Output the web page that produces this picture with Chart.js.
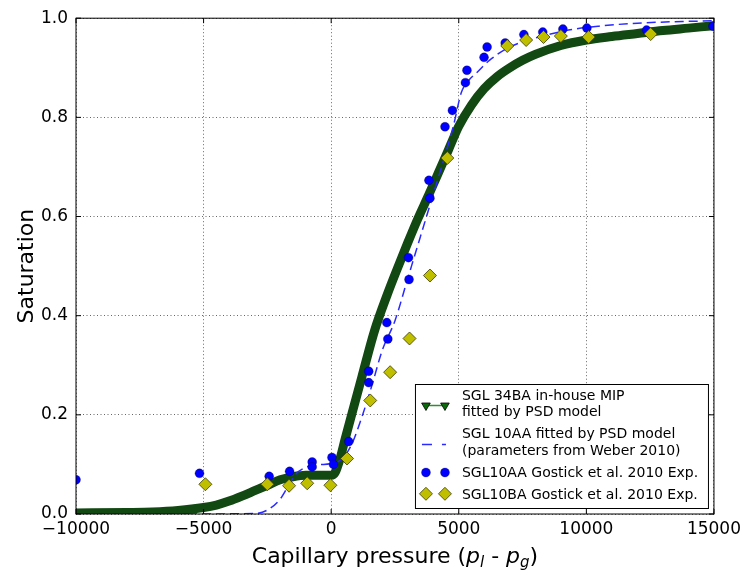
<!DOCTYPE html>
<html>
<head>
<meta charset="utf-8">
<script src="https://cdn.jsdelivr.net/npm/chart.js@4.4.1/dist/chart.umd.min.js"></script>
<style>
  html, body { margin: 0; padding: 0; background: #fff; }
  #wrap { width: 746px; height: 577px; }
</style>
</head>
<body>
<div id="wrap"><canvas id="chart" width="746" height="577"></canvas></div>
<script>
// SGL 34BA in-house MIP, fitted by PSD model
const fitX = [-10000, -8000, -7000, -6000, -5000, -4500, -4000, -3500, -3000, -2500, -2000, -1500, -1000, -500, 0,
  150, 350, 550, 800, 1200, 1700, 2200, 2600, 3000, 3400, 3800, 4200, 4600, 5000, 5500, 6000, 6500, 7000, 7500,
  8000, 9000, 10000, 11000, 12000, 13000, 14000, 15000];
const fitY = [0.002, 0.003, 0.004, 0.007, 0.013, 0.018, 0.026, 0.036, 0.047, 0.058, 0.069, 0.075, 0.078, 0.078, 0.078,
  0.083, 0.112, 0.152, 0.2, 0.276, 0.37, 0.443, 0.496, 0.547, 0.596, 0.641, 0.688, 0.735, 0.782, 0.825, 0.858, 0.882, 0.9, 0.915,
  0.927, 0.945, 0.956, 0.963, 0.969, 0.975, 0.98, 0.985];

// SGL 10AA fitted by PSD model (parameters from Weber 2010)
const weberX = [-10000, -6000, -3000, -2500, -2000, -1700, -1400, -1000, -500, 0, 400, 800, 1200, 1600, 2000, 2500,
  3000, 3500, 4000, 4500, 4800, 5100, 5400, 5700, 6200, 7000, 8000, 9300, 10500, 12000, 15000];
const weberY = [0, 0, 0.001, 0.008, 0.03, 0.055, 0.08, 0.094, 0.099, 0.102, 0.11, 0.14, 0.195, 0.26, 0.33, 0.39,
  0.475, 0.56, 0.645, 0.73, 0.785, 0.85, 0.875, 0.89, 0.915, 0.942, 0.96, 0.976, 0.984, 0.99, 0.995];

// SGL10AA Gostick et al. 2010 Exp.
const aaX = [-10000, -5160, -2430, -1630, -745, -745, 30, 90, 690, 1470, 1470, 2180, 2220, 3030, 3050, 3830, 3870,
  4460, 4750, 5260, 5320, 5990, 6110, 6820, 7550, 8290, 9080, 10020, 12360, 14960];
const aaY = [0.069, 0.082, 0.076, 0.086, 0.105, 0.095, 0.114, 0.1, 0.146, 0.288, 0.265, 0.386, 0.353, 0.517, 0.473, 0.673, 0.637,
  0.781, 0.814, 0.87, 0.895, 0.921, 0.942, 0.95, 0.967, 0.972, 0.978, 0.98, 0.976, 0.984];

// SGL10BA Gostick et al. 2010 Exp.
const baX = [-4930, -2500, -1650, -940, -30, 620, 1530, 2310, 3070, 3870, 4550, 6900, 7640, 8320, 9000, 10090, 12520];
const baY = [0.06, 0.06, 0.057, 0.062, 0.058, 0.112, 0.229, 0.286, 0.354, 0.481, 0.718, 0.944, 0.956, 0.962, 0.964, 0.962, 0.968];

const xTicks = [-10000, -5000, 0, 5000, 10000, 15000];
const yTicks = [0, 0.2, 0.4, 0.6, 0.8, 1.0];
const legendLabels = [
  ['SGL 34BA in-house MIP', 'fitted by PSD model'],
  ['SGL 10AA fitted by PSD model', '(parameters from Weber 2010)'],
  ['SGL10AA Gostick et al. 2010 Exp.'],
  ['SGL10BA Gostick et al. 2010 Exp.']
];

const FONT = '"DejaVu Sans", sans-serif';
const pts = (xs, ys) => xs.map((x, i) => ({ x: x, y: ys[i] }));

const drawPoint = (ctx, style, r, rot, fill, stroke, bw, x, y) => {
  ctx.fillStyle = fill;
  ctx.strokeStyle = stroke;
  ctx.lineWidth = bw;
  ctx.setLineDash([]);
  Chart.helpers.drawPoint(ctx, { pointStyle: style, radius: r, rotation: rot, borderWidth: bw }, x, y);
};

const decor = {
  id: 'decor',
  afterDraw(chart) {
    const { ctx, chartArea: a, scales: { x, y } } = chart;
    ctx.save();
    // frame
    ctx.strokeStyle = '#000';
    ctx.lineWidth = 1;
    ctx.setLineDash([]);
    ctx.strokeRect(a.left, a.top, a.right - a.left, a.bottom - a.top);
    // inward ticks on all sides
    ctx.beginPath();
    x.ticks.forEach(t => {
      const px = x.getPixelForValue(t.value);
      ctx.moveTo(px, a.bottom); ctx.lineTo(px, a.bottom - 5);
      ctx.moveTo(px, a.top); ctx.lineTo(px, a.top + 5);
    });
    y.ticks.forEach(t => {
      const py = y.getPixelForValue(t.value);
      ctx.moveTo(a.left, py); ctx.lineTo(a.left + 5, py);
      ctx.moveTo(a.right, py); ctx.lineTo(a.right - 5, py);
    });
    ctx.stroke();

    // legend
    const w = 293, h = 124;
    const L = a.right - 6 - w, T = a.bottom - 6 - h;
    ctx.fillStyle = '#fff';
    ctx.fillRect(L, T, w, h);
    ctx.strokeStyle = '#000';
    ctx.lineWidth = 1;
    ctx.strokeRect(L + 0.5, T + 0.5, w, h);
    const m1 = L + 11, m2 = L + 30;
    // green fitted line
    let my = T + 21.5;
    ctx.strokeStyle = '#2f8f2f';
    ctx.lineWidth = 1.5;
    ctx.beginPath(); ctx.moveTo(m1, my); ctx.lineTo(m2, my); ctx.stroke();
    drawPoint(ctx, 'triangle', 5, 180, '#0b6b0b', '#000', 0.8, m1, my);
    drawPoint(ctx, 'triangle', 5, 180, '#0b6b0b', '#000', 0.8, m2, my);
    // dashed Weber
    my = T + 60.5;
    ctx.strokeStyle = '#2a2aff';
    ctx.lineWidth = 1.5;
    ctx.setLineDash([10, 10]);
    ctx.beginPath(); ctx.moveTo(L + 7, my); ctx.lineTo(L + 31, my); ctx.stroke();
    ctx.setLineDash([]);
    // circles
    my = T + 88.5;
    drawPoint(ctx, 'circle', 4.5, 0, '#0000ff', 'rgba(0,0,0,0.5)', 0.5, m1, my);
    drawPoint(ctx, 'circle', 4.5, 0, '#0000ff', 'rgba(0,0,0,0.5)', 0.5, m2, my);
    // diamonds
    my = T + 109.8;
    drawPoint(ctx, 'rectRot', 6.5, 0, '#bfbf00', '#3a3a00', 0.8, m1, my);
    drawPoint(ctx, 'rectRot', 6.5, 0, '#bfbf00', '#3a3a00', 0.8, m2, my);

    ctx.fillStyle = '#000';
    ctx.font = '14px ' + FONT;
    ctx.textAlign = 'left';
    ctx.textBaseline = 'alphabetic';
    const baselines = [[15.5, 32.2], [53.8, 70.5], [93.2], [114.8]];
    legendLabels.forEach((lines, i) => {
      lines.forEach((s, j) => ctx.fillText(s, L + 47, T + baselines[i][j]));
    });

    // y title
    ctx.save();
    ctx.translate(33, (a.top + a.bottom) / 2);
    ctx.rotate(-Math.PI / 2);
    ctx.font = '22px ' + FONT;
    ctx.textAlign = 'center';
    ctx.fillText('Saturation', 0, 0);
    ctx.restore();

    // x title with math subscripts
    const n22 = '22px ' + FONT, i22 = 'italic 22px ' + FONT, i15 = 'italic 15px ' + FONT;
    const parts = [
      { t: 'Capillary pressure (', f: n22, dy: 0 },
      { t: 'p', f: i22, dy: 0 },
      { t: 'l', f: i15, dy: 4 },
      { t: ' - ', f: n22, dy: 0 },
      { t: 'p', f: i22, dy: 0 },
      { t: 'g', f: i15, dy: 4 },
      { t: ')', f: n22, dy: 0 }
    ];
    let total = 0;
    parts.forEach(p => { ctx.font = p.f; p.w = ctx.measureText(p.t).width; total += p.w; });
    let cx = (a.left + a.right) / 2 - total / 2;
    ctx.textAlign = 'left';
    parts.forEach(p => { ctx.font = p.f; ctx.fillText(p.t, cx, 563 + p.dy); cx += p.w; });
    ctx.restore();
  }
};

const gridOpts = {
  color: 'rgba(0,0,0,0.6)',
  lineWidth: 1,
  drawTicks: false
};

new Chart(document.getElementById('chart'), {
  type: 'scatter',
  data: {
    datasets: [
      {
        label: 'SGL 34BA in-house MIP fitted by PSD model',
        data: pts(fitX, fitY),
        showLine: true,
        borderColor: '#124812',
        borderWidth: 9,
        pointRadius: 0,
        cubicInterpolationMode: 'monotone',
        borderJoinStyle: 'round',
        order: 4
      },
      {
        label: 'SGL 10AA fitted by PSD model (parameters from Weber 2010)',
        data: pts(weberX, weberY),
        showLine: true,
        borderColor: '#2a2aff',
        borderWidth: 1.5,
        borderDash: [9, 5],
        pointRadius: 0,
        cubicInterpolationMode: 'monotone',
        order: 3
      },
      {
        label: 'SGL10AA Gostick et al. 2010 Exp.',
        data: pts(aaX, aaY),
        pointStyle: 'circle',
        pointRadius: 4.5,
        pointBackgroundColor: '#0000ff',
        pointBorderColor: 'rgba(0,0,0,0.5)',
        pointBorderWidth: 0.5,
        order: 2
      },
      {
        label: 'SGL10BA Gostick et al. 2010 Exp.',
        data: pts(baX, baY),
        pointStyle: 'rectRot',
        pointRadius: 6.5,
        pointBackgroundColor: '#bfbf00',
        pointBorderColor: '#3a3a00',
        pointBorderWidth: 0.8,
        order: 1
      }
    ]
  },
  options: {
    responsive: false,
    devicePixelRatio: 1,
    animation: false,
    events: [],
    layout: { padding: { left: 0, top: 16, right: 29, bottom: 0 } },
    plugins: { legend: { display: false }, tooltip: { enabled: false } },
    scales: {
      x: {
        type: 'linear',
        min: -10000,
        max: 15000,
        afterBuildTicks: s => { s.ticks = xTicks.map(v => ({ value: v })); },
        afterFit: s => { s.height = 63; },
        grid: Object.assign({}, gridOpts),
        border: { display: false, dash: [1, 2.5] },
        ticks: {
          padding: 5,
          maxRotation: 0,
          color: '#000',
          font: { family: FONT, size: 17 },
          callback: v => (v < 0 ? '\u2212' + Math.abs(v) : String(v))
        }
      },
      y: {
        type: 'linear',
        min: 0,
        max: 1,
        afterBuildTicks: s => { s.ticks = yTicks.map(v => ({ value: v })); },
        afterFit: s => { s.width = 76; },
        grid: Object.assign({}, gridOpts),
        border: { display: false, dash: [1, 2.5] },
        ticks: {
          padding: 8,
          color: '#000',
          font: { family: FONT, size: 17 },
          callback: v => v.toFixed(1)
        }
      }
    }
  },
  plugins: [decor]
});
</script>
</body>
</html>
